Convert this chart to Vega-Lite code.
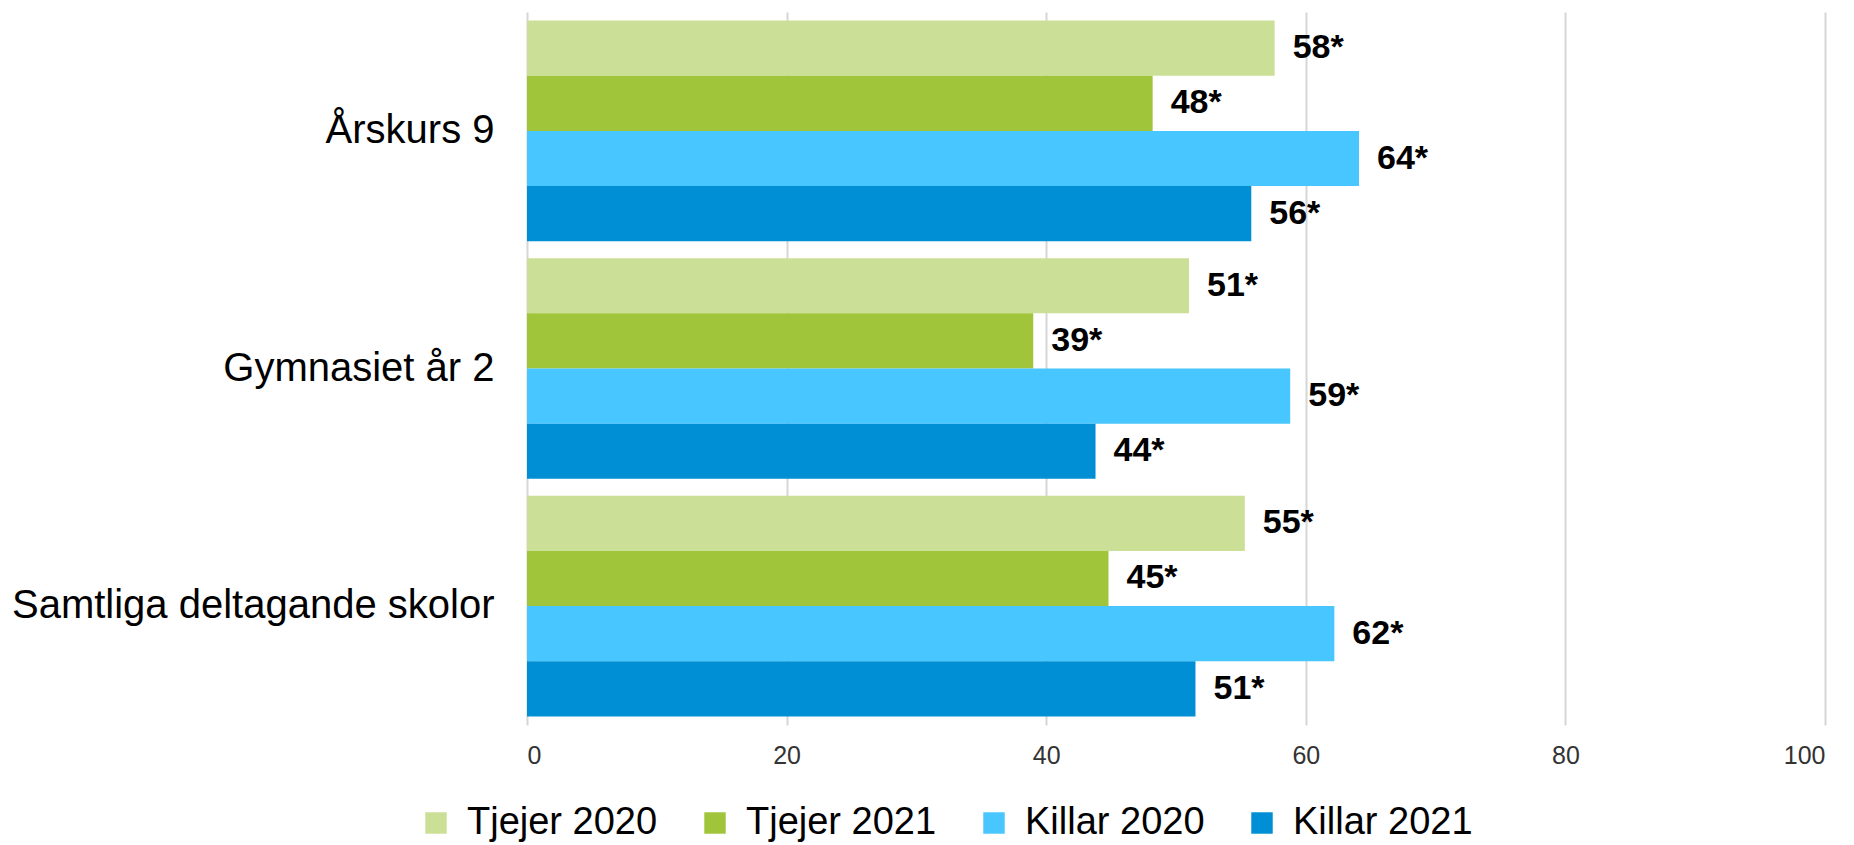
{
  "$schema": "https://vega.github.io/schema/vega-lite/v6.json",
  "autosize": {"type": "none"},
  "width": 1298,
  "height": 713,
  "padding": {"left": 527, "top": 12, "right": 29, "bottom": 120},
  "background": "white",
  "config": {"view": {"stroke": null}, "font": "Liberation Sans"},
  "data": {
    "values": [
      {"group": "Årskurs 9", "series": "Tjejer 2020", "value": 57.6, "label": "58*"},
      {"group": "Årskurs 9", "series": "Tjejer 2021", "value": 48.2, "label": "48*"},
      {"group": "Årskurs 9", "series": "Killar 2020", "value": 64.1, "label": "64*"},
      {"group": "Årskurs 9", "series": "Killar 2021", "value": 55.8, "label": "56*"},
      {"group": "Gymnasiet år 2", "series": "Tjejer 2020", "value": 51.0, "label": "51*"},
      {"group": "Gymnasiet år 2", "series": "Tjejer 2021", "value": 39.0, "label": "39*"},
      {"group": "Gymnasiet år 2", "series": "Killar 2020", "value": 58.8, "label": "59*"},
      {"group": "Gymnasiet år 2", "series": "Killar 2021", "value": 43.8, "label": "44*"},
      {"group": "Samtliga deltagande skolor", "series": "Tjejer 2020", "value": 55.3, "label": "55*"},
      {"group": "Samtliga deltagande skolor", "series": "Tjejer 2021", "value": 44.8, "label": "45*"},
      {"group": "Samtliga deltagande skolor", "series": "Killar 2020", "value": 62.2, "label": "62*"},
      {"group": "Samtliga deltagande skolor", "series": "Killar 2021", "value": 51.5, "label": "51*"}
    ]
  },
  "encoding": {
    "y": {
      "field": "group",
      "type": "nominal",
      "sort": ["Årskurs 9", "Gymnasiet år 2", "Samtliga deltagande skolor"],
      "scale": {"paddingInner": 0.071, "paddingOuter": 0.036},
      "axis": {
        "title": null,
        "labelFontSize": 40,
        "labelColor": "#000000",
        "labelPadding": 33,
        "labelLimit": 0,
        "ticks": false,
        "domain": false,
        "grid": false
      }
    },
    "yOffset": {
      "field": "series",
      "type": "nominal",
      "sort": ["Tjejer 2020", "Tjejer 2021", "Killar 2020", "Killar 2021"],
      "scale": {"paddingInner": 0, "paddingOuter": 0}
    },
    "x": {
      "field": "value",
      "type": "quantitative",
      "scale": {"domain": [0, 100], "nice": false},
      "axis": {
        "title": null,
        "values": [0, 20, 40, 60, 80, 100],
        "labelFontSize": 25,
        "labelColor": "#333333",
        "labelPadding": 18,
        "ticks": false,
        "domain": false,
        "grid": true,
        "gridColor": "#d6d6d6",
        "gridWidth": 2
      }
    }
  },
  "layer": [
    {
      "mark": {"type": "bar"},
      "encoding": {
        "color": {
          "field": "series",
          "type": "nominal",
          "sort": ["Tjejer 2020", "Tjejer 2021", "Killar 2020", "Killar 2021"],
          "scale": {
            "domain": ["Tjejer 2020", "Tjejer 2021", "Killar 2020", "Killar 2021"],
            "range": ["#cbe096", "#a1c53a", "#48c6ff", "#008fd4"]
          },
          "legend": {
            "title": null,
            "orient": "none",
            "direction": "horizontal",
            "legendX": -110,
            "legendY": 792,
            "padding": 0,
            "symbolType": "square",
            "symbolSize": 460,
            "symbolStrokeWidth": 0,
            "labelFontSize": 38,
            "labelColor": "#000000",
            "labelOffset": 12,
            "columnPadding": 38,
            "labelLimit": 0
          }
        }
      }
    },
    {
      "mark": {"type": "text", "align": "left", "baseline": "middle", "dx": 18, "fontWeight": "bold", "fontSize": 34, "color": "#000000"},
      "encoding": {"text": {"field": "label"}}
    }
  ]
}
